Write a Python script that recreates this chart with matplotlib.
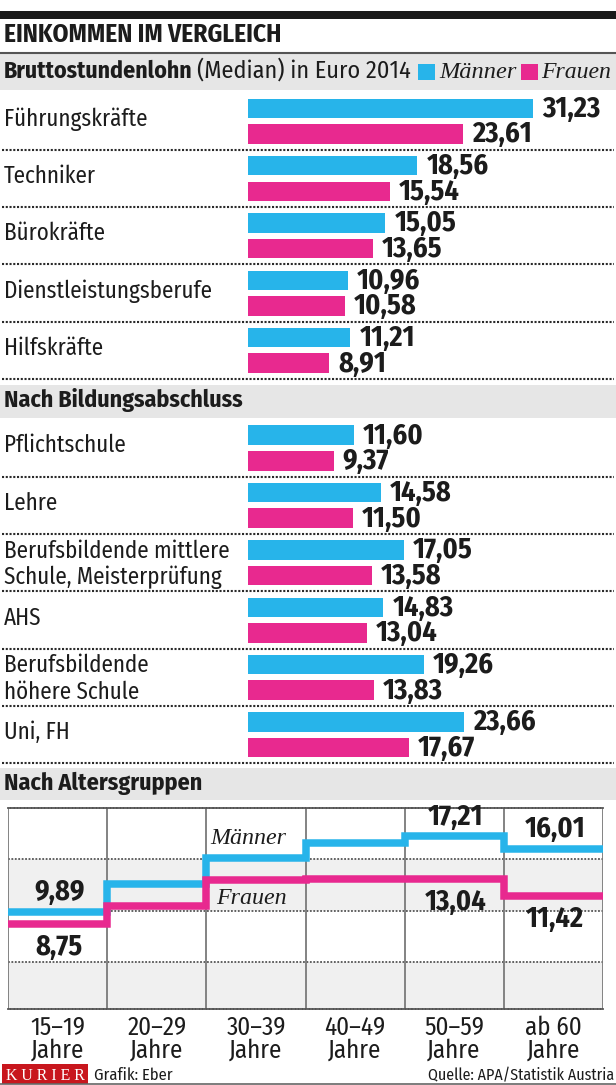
import matplotlib
matplotlib.use("Agg")
import matplotlib.pyplot as plt
from matplotlib import font_manager as fm
from matplotlib.lines import Line2D
from matplotlib.patches import Rectangle
import numpy as np

# ---------------- data ----------------
occ_labels = ["Führungskräfte", "Techniker", "Bürokräfte", "Dienstleistungsberufe", "Hilfskräfte"]
occ_men = [31.23, 18.56, 15.05, 10.96, 11.21]
occ_women = [23.61, 15.54, 13.65, 10.58, 8.91]

edu_labels = ["Pflichtschule", "Lehre", "Berufsbildende mittlere\nSchule, Meisterprüfung",
              "AHS", "Berufsbildende\nhöhere Schule", "Uni, FH"]
edu_men = [11.60, 14.58, 17.05, 14.83, 19.26, 23.66]
edu_women = [9.37, 11.50, 13.58, 13.04, 13.83, 17.67]

age_labels = ["15–19\nJahre", "20–29\nJahre", "30–39\nJahre", "40–49\nJahre", "50–59\nJahre", "ab 60\nJahre"]
age_men = [9.89, 12.55, 15.15, 16.55, 17.21, 16.01]
age_women = [8.75, 10.45, 12.95, 13.05, 13.04, 11.42]
age_labelled = [0, 4, 5]

series_names = ["Männer", "Frauen"]

# ---------------- style ----------------
W, H, DPI = 616, 1085, 100
BLUE = "#27b4ea"
PINK = "#e8298f"
BAND = "#e6e6e6"
TXT = "#1c1c1c"
PX = 0.72  # points per pixel

names = sorted({f.name for f in fm.fontManager.ttflist})


def pick(cands, default="DejaVu Sans"):
    for c in cands:
        if c in names:
            return c
    return default


SANS = pick(["Fira Sans Condensed", "Encode Sans Semi Condensed", "Barlow Semi Condensed",
             "IBM Plex Sans Condensed", "Liberation Sans"])
SERIF = pick(["Liberation Serif", "DejaVu Serif", "Noto Serif"])

fig = plt.figure(figsize=(W / DPI, H / DPI), dpi=DPI)
fig.patch.set_facecolor("white")
R = fig.canvas.get_renderer()


def fx(x):
    return x / W


def fy(y):
    return 1 - y / H


def ax_px(x0, y0, x1, y1):
    return fig.add_axes([x0 / W, 1 - y1 / H, (x1 - x0) / W, (y1 - y0) / H])


def measure(s, size, **kw):
    t = fig.text(0, 0, s, fontsize=size, **kw)
    w = t.get_window_extent(R).width
    t.remove()
    return w


def fit(s, size, width, **kw):
    f = width / measure(s, size, **kw)
    return size * min(max(f, 0.82), 1.22)


def ftext(x, y, s, size, width=None, **kw):
    kw.setdefault("family", SANS)
    kw.setdefault("color", TXT)
    kw.setdefault("va", "baseline")
    if width:
        size = fit(s, size, width, family=kw["family"],
                   weight=kw.get("weight", "normal"), style=kw.get("style", "normal"))
    return fig.text(fx(x), fy(y), s, fontsize=size, **kw)


def hline(y, x0=0, x1=W, **kw):
    fig.add_artist(Line2D([fx(x0), fx(x1)], [fy(y), fy(y)], transform=fig.transFigure, **kw))


def rect(x0, y0, x1, y1, color):
    fig.add_artist(Rectangle((fx(x0), fy(y1)), (x1 - x0) / W, (y1 - y0) / H,
                             transform=fig.transFigure, color=color, lw=0, zorder=0))


DOT = dict(color="#2a2a2a", lw=1.5, ls=(0, (1, 0.8)))

# font sizes fitted to reference widths
SZ_LAB = fit("Führungskräfte", 17, 143, family=SANS)
SZ_NUM = fit("31,23", 17.5, 58, family=SANS, weight="bold")
SZ_HEAD = fit("Nach Bildungsabschluss", 17, 239, family=SANS, weight="bold")
SZ_SER = fit("Männer", 16.5, 76, family=SERIF, style="italic")
SZ_AGE = fit("15–19", 17, 55, family=SANS)

# ---------------- header ----------------
rect(0, 11, W, 18.5, "#1a1a1a")
ftext(4, 42.5, "EINKOMMEN IM VERGLEICH", 16.5, width=278, weight="bold")
rect(0, 52, W, 89.5, BAND)
hline(52.5, color="#555555", lw=1.5)
ftext(4, 78, "Bruttostundenlohn", SZ_HEAD, width=189, weight="bold")
ftext(197, 78, "(Median) in Euro 2014", SZ_LAB, width=213)
rect(418, 63.5, 435, 79.5, BLUE)
ftext(439, 78, series_names[0], SZ_SER, width=77, family=SERIF, style="italic")
rect(521, 63.5, 538, 79.5, PINK)
ftext(541, 78, series_names[1], SZ_SER, width=70, family=SERIF, style="italic")


# ---------------- bar sections ----------------
def bar_section(mid0, pitch, labels, men, women):
    n = len(labels)
    top = mid0 - pitch / 2
    bot = mid0 + (n - 0.5) * pitch
    ax = ax_px(248, top, W, bot)
    idx = np.arange(n)
    d = 12.8 / pitch
    h = 19.5 / pitch
    ax.barh(idx - d, men, height=h, color=BLUE, lw=0)
    ax.barh(idx + d, women, height=h, color=PINK, lw=0)
    ax.set_xlim(0, (W - 248) / 9.126)
    ax.set_ylim(n - 0.5, -0.5)
    ax.axis("off")
    for k in range(n):
        for v, yy in ((men[k], k - d), (women[k], k + d)):
            ax.annotate(f"{v:.2f}".replace(".", ","), xy=(v, yy), xytext=(9 * PX, -8.5 * PX),
                        textcoords="offset points", ha="left", va="baseline",
                        fontsize=SZ_NUM, weight="bold", family=SANS, color=TXT,
                        annotation_clip=False)
        lines = labels[k].split("\n")
        mid = mid0 + k * pitch
        if len(lines) == 1:
            ftext(4, mid + 4.5, lines[0], SZ_LAB)
        else:
            ftext(4, mid - 12.8 + 7.8, lines[0], SZ_LAB)
            ftext(4, mid + 12.8 + 8.5, lines[1], SZ_LAB)
        hline(mid + pitch / 2, 2, 614, **DOT)
    return ax


bar_section(121.2, 57.3, occ_labels, occ_men, occ_women)

rect(0, 385, W, 418.3, BAND)
ftext(4, 407.3, "Nach Bildungsabschluss", SZ_HEAD, weight="bold")

bar_section(448.0, 57.35, edu_labels, edu_men, edu_women)

rect(0, 768.3, W, 800, BAND)
ftext(4, 790, "Nach Altersgruppen", SZ_HEAD, width=198, weight="bold")

# ---------------- age chart ----------------
ax = ax_px(8.3, 807.7, 602.7, 1008.7)
ax.set_xlim(0, 6)
ax.set_ylim(0.5, 20)
ax.axhspan(10, 15, color="#f0f0f0", lw=0, zorder=0)
ax.axhspan(0.5, 5, color="#f0f0f0", lw=0, zorder=0)
for v in (5, 10, 15):
    ax.axhline(v, color="#555555", lw=1.3, ls=(0, (1, 0.9)), zorder=1)
for x in range(7):
    ax.axvline(x, color="#7a7a7a", lw=1.3, zorder=1)
for sp in ("top", "bottom"):
    ax.spines[sp].set_linestyle((0, (1, 0.9)))
    ax.spines[sp].set_color("#555555")
    ax.spines[sp].set_linewidth(1.3)
for sp in ("left", "right"):
    ax.spines[sp].set_visible(False)
ax.set_yticks([])

xs = np.arange(7)
ax.step(xs, list(age_men) + [age_men[-1]], where="post", color=BLUE, lw=5.4,
        solid_joinstyle="miter", solid_capstyle="butt", zorder=3, clip_on=False)
ax.step(xs, list(age_women) + [age_women[-1]], where="post", color=PINK, lw=5.4,
        solid_joinstyle="miter", solid_capstyle="butt", zorder=4, clip_on=False)

for k in age_labelled:
    ax.annotate(f"{age_men[k]:.2f}".replace(".", ","), xy=(k + 0.5, age_men[k]),
                xytext=(1.5 * PX, 11.5 * PX), textcoords="offset points",
                ha="center", va="baseline", fontsize=SZ_NUM, weight="bold",
                family=SANS, color=TXT, zorder=5)
    ax.annotate(f"{age_women[k]:.2f}".replace(".", ","), xy=(k + 0.5, age_women[k]),
                xytext=(1.5 * PX, -31 * PX), textcoords="offset points",
                ha="center", va="baseline", fontsize=SZ_NUM, weight="bold",
                family=SANS, color=TXT, zorder=5)

ax.annotate(series_names[0], xy=(2, age_men[2]), xytext=(3.6 * PX, 13.4 * PX),
            textcoords="offset points", ha="left", va="baseline", fontsize=SZ_SER,
            family=SERIF, style="italic", color=TXT, zorder=5)
ax.annotate(series_names[1], xy=(2, age_women[2]), xytext=(10 * PX, -23.8 * PX),
            textcoords="offset points", ha="left", va="baseline", fontsize=SZ_SER,
            family=SERIF, style="italic", color=TXT, zorder=5)

ax.set_xticks(np.arange(6) + 0.5)
ax.set_xticklabels(age_labels, family=SANS, fontsize=SZ_AGE, color=TXT, linespacing=0.88)
ax.tick_params(axis="x", length=0, pad=4.5)

# ---------------- footer ----------------
rect(2, 1063.5, 88, 1083.5, "#c8161d")
ftext(45, 1080.5, "K U R I E R", 14, width=78, family=SERIF, color="white", ha="center")
ftext(94, 1080, "Grafik: Eber", 13.5, width=78)
ftext(614, 1080, "Quelle: APA/Statistik Austria", 13.5, width=186, ha="right")
hline(1084.3, color="#666666", lw=1.2)

fig.savefig("out.png", dpi=DPI, facecolor="white")
